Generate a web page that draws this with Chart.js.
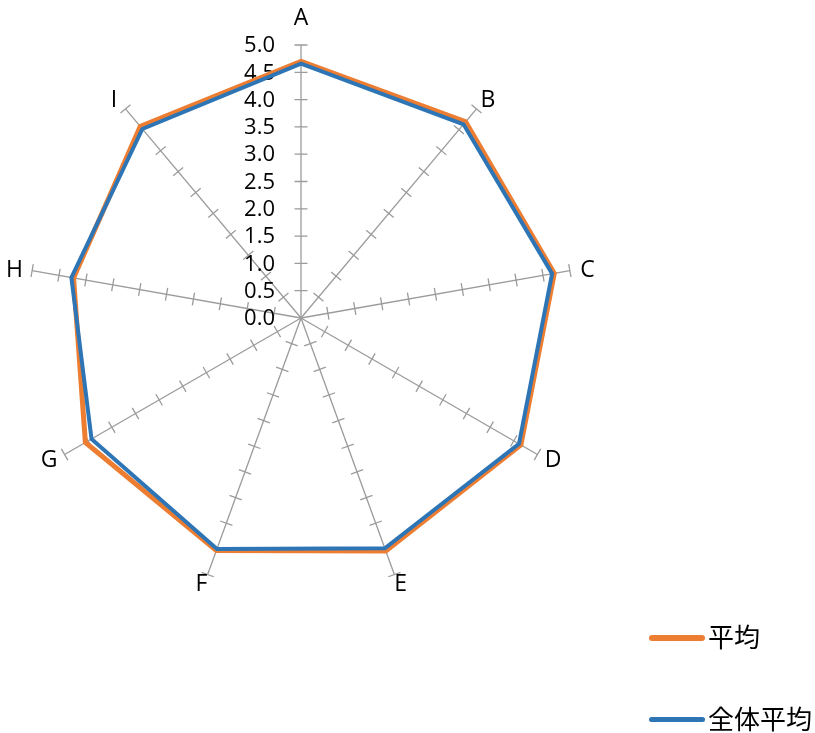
<!DOCTYPE html>
<html>
<head>
<meta charset="utf-8">
<script src="https://cdn.jsdelivr.net/npm/chart.js@4/dist/chart.umd.min.js"></script>
<style>
  html, body { margin:0; padding:0; background:#fff; }
  #wrap { position:relative; width:815px; height:733px; overflow:hidden; }
  canvas { position:absolute; left:0; top:0; }
  .sw { position:absolute; border-radius:3px; }
  .lt { position:absolute; font-family:"Noto Sans CJK JP","Noto Sans",sans-serif; font-size:26px; line-height:32px; color:#000; white-space:nowrap; }
</style>
</head>
<body>
<div id="wrap">
  <canvas id="c" width="815" height="733"></canvas>
  <div class="sw" style="left:649px;top:635px;width:56px;height:6px;background:#ED7D31;"></div>
  <div class="lt" style="left:708px;top:620px;">平均</div>
  <div class="sw" style="left:649px;top:717px;width:56px;height:5px;background:#2E75B6;"></div>
  <div class="lt" style="left:708px;top:702px;">全体平均</div>
</div>
<script>
const categories = ['A','B','C','D','E','F','G','H','I'];
const seriesAvg = [4.70, 4.69, 4.71, 4.65, 4.54, 4.53, 4.56, 4.23, 4.58];      // 平均
const seriesOverall = [4.66, 4.63, 4.67, 4.61, 4.49, 4.50, 4.43, 4.27, 4.52];  // 全体平均
const tickValues = [0, 0.5, 1.0, 1.5, 2.0, 2.5, 3.0, 3.5, 4.0, 4.5, 5.0];
const tickLabels = ['0.0','0.5','1.0','1.5','2.0','2.5','3.0','3.5','4.0','4.5','5.0'];

const GRAY = '#9b9b9b';
const LATIN = '"Open Sans", "Liberation Sans", sans-serif';

const axisDecor = {
  id: 'axisDecor',
  beforeDatasetsDraw(chart) {
    const s = chart.scales.r;
    const ctx = chart.ctx;
    ctx.save();
    // tick marks across each spoke
    ctx.strokeStyle = GRAY;
    ctx.lineWidth = 1.3;
    ctx.beginPath();
    for (let i = 0; i < categories.length; i++) {
      const end = s.getPointPosition(i, s.drawingArea);
      const ux = (end.x - s.xCenter) / s.drawingArea;
      const uy = (end.y - s.yCenter) / s.drawingArea;
      for (const v of tickValues) {
        if (v === 0) continue;
        const p = s.getPointPosition(i, s.getDistanceFromCenterForValue(v));
        ctx.moveTo(p.x - uy * 6.5, p.y + ux * 6.5);
        ctx.lineTo(p.x + uy * 6.5, p.y - ux * 6.5);
      }
    }
    ctx.stroke();
    // value labels along the first spoke
    ctx.fillStyle = '#000';
    ctx.font = '22px ' + LATIN;
    ctx.textAlign = 'right';
    ctx.textBaseline = 'middle';
    tickValues.forEach((v, k) => {
      const p = s.getPointPosition(0, s.getDistanceFromCenterForValue(v));
      ctx.fillText(tickLabels[k], s.xCenter - 26, p.y + 1);
    });
    // category labels
    ctx.textAlign = 'center';
    ctx.font = '23px ' + LATIN;
    for (let i = 0; i < categories.length; i++) {
      const end = s.getPointPosition(i, s.drawingArea);
      const sn = (end.x - s.xCenter) / s.drawingArea;
      const cs = -(end.y - s.yCenter) / s.drawingArea;
      const dx = 18 * sn;
      const dy = -9 * cs - 19 * Math.pow(Math.max(0, cs), 8);
      ctx.fillText(categories[i], end.x + dx, end.y + dy + 1);
    }
    ctx.restore();
  }
};

new Chart(document.getElementById('c'), {
  type: 'radar',
  data: {
    labels: categories,
    datasets: [
      {
        label: '平均',
        data: seriesAvg,
        borderColor: '#ED7D31',
        backgroundColor: 'rgba(0,0,0,0)',
        borderWidth: 5,
        pointRadius: 0,
        pointHoverRadius: 0,
        borderJoinStyle: 'miter',
        fill: false,
        order: 2
      },
      {
        label: '全体平均',
        data: seriesOverall,
        borderColor: '#2E75B6',
        backgroundColor: 'rgba(0,0,0,0)',
        borderWidth: 4,
        pointRadius: 0,
        pointHoverRadius: 0,
        borderJoinStyle: 'miter',
        fill: false,
        order: 1
      }
    ]
  },
  options: {
    responsive: false,
    devicePixelRatio: 1,
    animation: false,
    layout: { padding: { left: 28, top: 45, right: 241, bottom: 142 } },
    plugins: { legend: { display: false }, tooltip: { enabled: false } },
    elements: { line: { tension: 0 } },
    scales: {
      r: {
        min: 0,
        max: 5,
        ticks: { display: false, stepSize: 0.5 },
        grid: { display: false },
        angleLines: { display: true, color: GRAY, lineWidth: 1.3 },
        pointLabels: { display: false }
      }
    }
  },
  plugins: [axisDecor]
});
</script>
</body>
</html>
